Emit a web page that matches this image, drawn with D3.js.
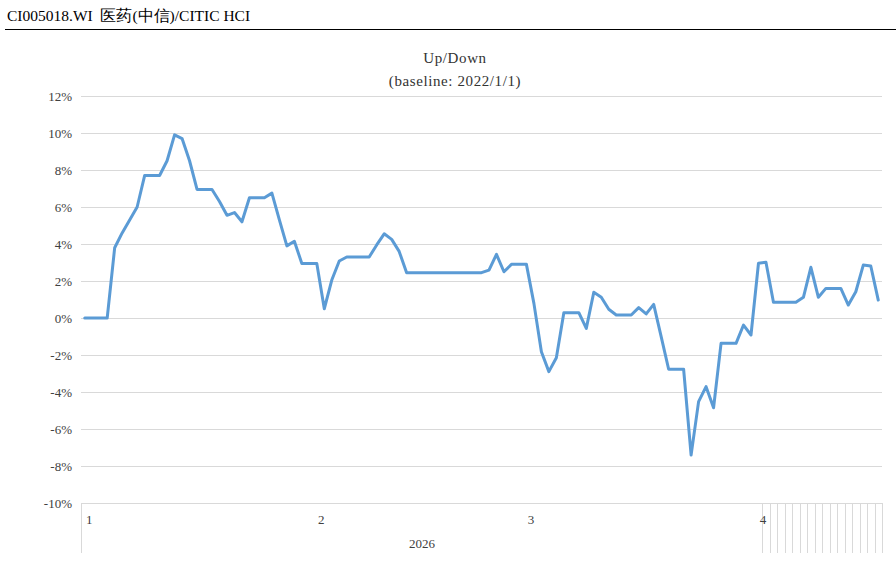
<!DOCTYPE html>
<html>
<head>
<meta charset="utf-8">
<script src="https://cdn.jsdelivr.net/npm/d3@7/dist/d3.min.js"></script>
<style>
  html, body { margin: 0; padding: 0; background: #fff; }
  svg { display: block; }
  svg text { font-family: "Liberation Serif", "DejaVu Serif", serif; }
</style>
</head>
<body>
<svg id="chart" width="896" height="565"></svg>
<script>
// ---- Data ----
const headerText = "CI005018.WI  医药(中信)/CITIC HCI";
const titleLines = ["Up/Down", "(baseline: 2022/1/1)"];
const startDate = "2026-01-01";
const yearLabel = "2026";
const yTicks = [-10, -8, -6, -4, -2, 0, 2, 4, 6, 8, 10, 12];
const values = [
  0, 0, 0, 0, 3.8, 4.6, 5.3, 6.0, 7.7, 7.7,
  7.7, 8.5, 9.9, 9.7, 8.5, 6.95, 6.95, 6.95, 6.3, 5.55,
  5.7, 5.2, 6.5, 6.5, 6.5, 6.75, 5.3, 3.9, 4.15, 2.95,
  2.95, 2.95, 0.5, 2.05, 3.08, 3.3, 3.3, 3.3, 3.3, 3.95,
  4.55, 4.25, 3.6, 2.45, 2.45, 2.45, 2.45, 2.45, 2.45, 2.45,
  2.45, 2.45, 2.45, 2.45, 2.59, 3.44, 2.5, 2.9, 2.9, 2.9,
  0.79, -1.82, -2.9, -2.15, 0.29, 0.29, 0.29, -0.56, 1.39, 1.12,
  0.47, 0.16, 0.16, 0.16, 0.56, 0.22, 0.74, -1.01, -2.77, -2.77,
  -2.77, -7.41, -4.52, -3.71, -4.85, -1.37, -1.37, -1.37, -0.38, -0.92,
  2.96, 3.01, 0.85, 0.85, 0.85, 0.85, 1.12, 2.74, 1.12, 1.6,
  1.6, 1.6, 0.7, 1.42, 2.86, 2.81, 0.97
];

const serif = "'Liberation Serif', 'DejaVu Serif', serif";

// Dates derived from start date (one per day)
const parse = d3.timeParse("%Y-%m-%d");
const d0 = parse(startDate);
const dates = values.map((v, i) => d3.timeDay.offset(d0, i));
const data = values.map((v, i) => ({ i, date: dates[i], v }));

// ---- Layout ----
const svg = d3.select("#chart");
const plotLeft = 81, plotRight = 882, plotTop = 96, plotBottom = 503;

const x = d3.scaleBand().domain(d3.range(values.length)).range([plotLeft, plotRight]).padding(0);
const y = d3.scaleLinear().domain([-10, 12]).range([plotBottom, plotTop]);

// Header
svg.append("text")
  .attr("x", 7).attr("y", 21)
  .attr("font-family", serif)
  .attr("font-size", 15.5).attr("fill", "#000")
  .style("white-space", "pre")
  .text(headerText);
svg.append("line")
  .attr("x1", 5).attr("x2", 896).attr("y1", 29.5).attr("y2", 29.5)
  .attr("stroke", "#000").attr("stroke-width", 1.2);

// Title
svg.selectAll("text.title").data(titleLines).join("text")
  .attr("class", "title")
  .attr("x", 455).attr("y", (d, i) => 63 + i * 23)
  .attr("text-anchor", "middle")
  .attr("font-family", serif)
  .attr("font-size", 15).attr("letter-spacing", 0.6).attr("fill", "#333")
  .text(d => d);

// Gridlines
svg.append("g").selectAll("line").data(yTicks).join("line")
  .attr("x1", plotLeft).attr("x2", plotRight)
  .attr("y1", d => Math.round(y(d)) + 0.5).attr("y2", d => Math.round(y(d)) + 0.5)
  .attr("stroke", "#d9d9d9").attr("stroke-width", 1);

// Y axis labels
svg.append("g").selectAll("text").data(yTicks).join("text")
  .attr("x", 72).attr("y", d => y(d) + 4.5)
  .attr("text-anchor", "end")
  .attr("font-family", serif)
  .attr("font-size", 13).attr("fill", "#404040")
  .text(d => d + "%");

// Category axis: left border line
svg.append("line")
  .attr("x1", plotLeft + 0.5).attr("x2", plotLeft + 0.5)
  .attr("y1", plotBottom).attr("y2", plotBottom + 50)
  .attr("stroke", "#d9d9d9");

// Day tick lines for the last (partial) month
const lastMonth = dates[dates.length - 1].getMonth();
const lastMonthIdx = data.filter(d => d.date.getMonth() === lastMonth).map(d => d.i);
svg.append("g").selectAll("line").data(lastMonthIdx).join("line")
  .attr("x1", d => Math.round(x(d) + x.bandwidth()) + 0.5)
  .attr("x2", d => Math.round(x(d) + x.bandwidth()) + 0.5)
  .attr("y1", plotBottom).attr("y2", plotBottom + 50)
  .attr("stroke", "#d9d9d9");

// Month labels at first day of each month
const monthStarts = data.filter(d => d.date.getDate() === 1);
svg.append("g").selectAll("text").data(monthStarts).join("text")
  .attr("x", d => x(d.i) + 5)
  .attr("y", 524)
  .attr("font-family", serif)
  .attr("font-size", 13).attr("fill", "#404040")
  .text(d => d.date.getMonth() + 1);

// Year label
svg.append("text")
  .attr("x", 422).attr("y", 548)
  .attr("text-anchor", "middle")
  .attr("font-family", serif)
  .attr("font-size", 13).attr("fill", "#404040")
  .text(yearLabel);

// Line
const line = d3.line()
  .x(d => x(d.i) + x.bandwidth() / 2)
  .y(d => y(d.v));
svg.append("path")
  .datum(data)
  .attr("d", line)
  .attr("fill", "none")
  .attr("stroke", "#5B9BD5")
  .attr("stroke-width", 3)
  .attr("stroke-linejoin", "round")
  .attr("stroke-linecap", "round");
</script>
</body>
</html>
